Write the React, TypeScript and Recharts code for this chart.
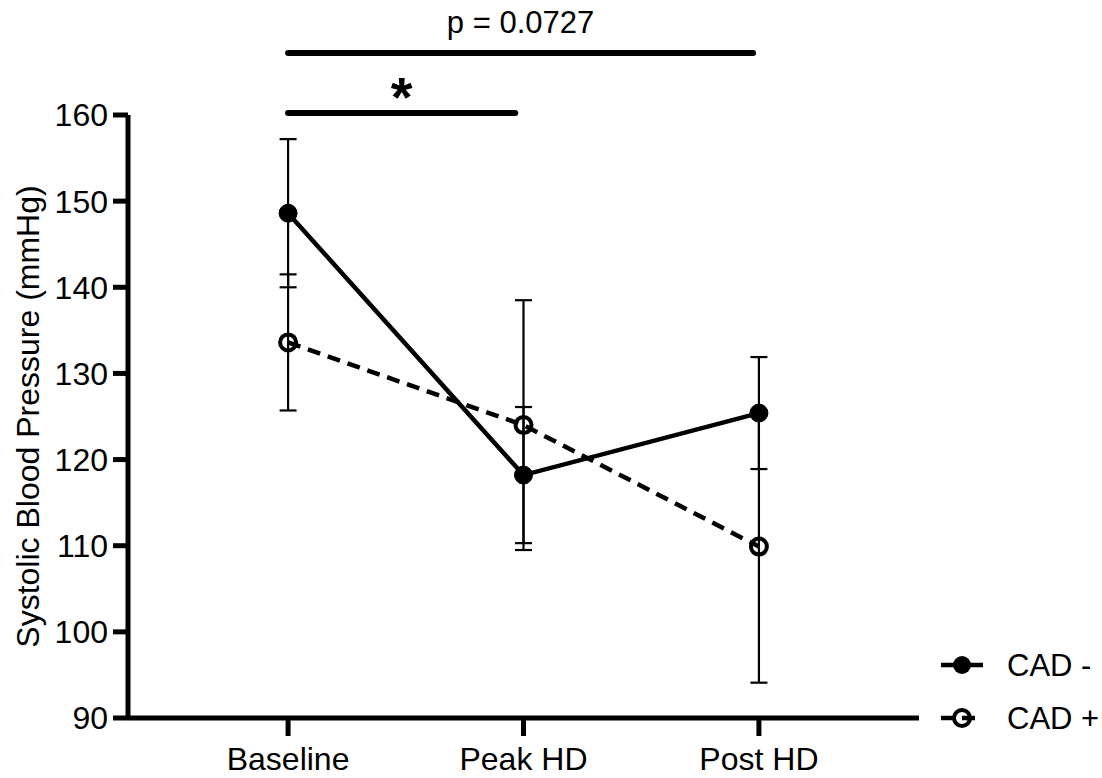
import React from 'react';
import { LineChart, Line, XAxis, YAxis, ErrorBar, ReferenceLine, Legend } from 'recharts';

const categories = ['Baseline', 'Peak HD', 'Post HD'];
const cadNegMean = [148.6, 118.2, 125.4];
const cadNegSD = [8.6, 7.9, 6.5];
const cadPosMean = [133.6, 124.0, 109.9];
const cadPosSD = [7.9, 14.5, 15.8];
const yTicks = [90, 100, 110, 120, 130, 140, 150, 160];
const xTicks = [0, 1, 2];
const seriesNames = ['CAD -', 'CAD +'];
const sigFrom = [0, 0];
const sigTo = [0.965, 1.975];
const sigLevel = [160.23, 167.2];
const sigText = ['*', 'p = 0.0727'];

const FONT = '"Liberation Sans", Arial, sans-serif';

const data = categories.map((c, i) => ({
  x: i,
  name: c,
  neg: cadNegMean[i],
  negErr: cadNegSD[i],
  pos: cadPosMean[i],
  posErr: cadPosSD[i],
}));

const SigLabel = (props: any) => {
  const vb = props.viewBox || {};
  const cx = vb.x + (vb.width || 0) / 2;
  const isStar = props.value === '*';
  return (
    <text
      x={cx}
      y={isStar ? vb.y + 3 : vb.y - 20}
      textAnchor="middle"
      fill="#000"
      fontFamily={FONT}
      fontSize={isStar ? 56 : 31}
      fontWeight={isStar ? 'bold' : 'normal'}
    >
      {props.value}
    </text>
  );
};

const YTitle = (props: any) => {
  const vb = props.viewBox || {};
  const x = vb.x + 28;
  const y = vb.y + vb.height / 2;
  return (
    <text
      x={x}
      y={y}
      transform={`rotate(-90, ${x}, ${y})`}
      textAnchor="middle"
      dominantBaseline="central"
      fill="#000"
      fontFamily={FONT}
      fontSize={32}
    >
      Systolic Blood Pressure (mmHg)
    </text>
  );
};

const LegendContent = () => (
  <svg width={167} height={110}>
    <g>
      <line x1={6} y1={25} x2={48} y2={25} stroke="#000" strokeWidth={4.5} />
      <circle cx={27} cy={25} r={9} fill="#000" />
      <text x={72} y={25} dominantBaseline="central" fontFamily={FONT} fontSize={31} fill="#000">
        {seriesNames[0]}
      </text>
    </g>
    <g>
      <line x1={6} y1={78} x2={48} y2={78} stroke="#000" strokeWidth={4.5} strokeDasharray="13 8" />
      <circle cx={27} cy={78} r={8} fill="none" stroke="#000" strokeWidth={4} />
      <text x={72} y={78} dominantBaseline="central" fontFamily={FONT} fontSize={31} fill="#000">
        {seriesNames[1]}
      </text>
    </g>
  </svg>
);

export default function App() {
  return (
    <div style={{ position: 'absolute', left: 0, top: 0, width: 1102, height: 778, background: '#fff' }}>
      <LineChart
        width={1102}
        height={778}
        data={data}
        margin={{ top: 115, right: 183, bottom: 0, left: 0 }}
        style={{ fontFamily: FONT }}
      >
        <XAxis
          dataKey="x"
          type="number"
          domain={[-0.68, 2.68]}
          ticks={xTicks}
          tickFormatter={(v: number) => categories[v]}
          height={60}
          axisLine={{ stroke: '#000', strokeWidth: 5 }}
          tickLine={{ stroke: '#000', strokeWidth: 5 }}
          tickSize={18}
          tickMargin={11}
          tick={{ fill: '#000', fontSize: 32, fontFamily: FONT }}
          allowDataOverflow
        />
        <YAxis
          type="number"
          domain={[90, 160]}
          ticks={yTicks}
          width={128}
          axisLine={{ stroke: '#000', strokeWidth: 5 }}
          tickLine={{ stroke: '#000', strokeWidth: 5 }}
          tickSize={15}
          tickMargin={5}
          tick={{ fill: '#000', fontSize: 32, fontFamily: FONT }}
          label={<YTitle />}
          allowDataOverflow
        />
        {sigText.map((t, i) => (
          <ReferenceLine
            key={t}
            segment={[
              { x: sigFrom[i], y: sigLevel[i] },
              { x: sigTo[i], y: sigLevel[i] },
            ]}
            ifOverflow="visible"
            stroke="#000"
            strokeWidth={6}
            strokeLinecap="round"
            label={<SigLabel value={t} />}
          />
        ))}
        <Line
          dataKey="neg"
          name={seriesNames[0]}
          stroke="#000"
          strokeWidth={4.5}
          isAnimationActive={false}
          dot={{ r: 9, fill: '#000', stroke: '#000', strokeWidth: 1 }}
          activeDot={false}
        >
          <ErrorBar dataKey="negErr" direction="y" width={8.5} stroke="#000" strokeWidth={2.2} />
        </Line>
        <Line
          dataKey="pos"
          name={seriesNames[1]}
          stroke="#000"
          strokeWidth={4.5}
          strokeDasharray="13 8"
          isAnimationActive={false}
          dot={{ r: 8, fill: 'none', stroke: '#000', strokeWidth: 4, strokeDasharray: 'none' }}
          activeDot={false}
        >
          <ErrorBar dataKey="posErr" direction="y" width={8.5} stroke="#000" strokeWidth={2.2} />
        </Line>
        <Legend
          layout="horizontal"
          verticalAlign="middle"
          align="center"
          content={<LegendContent />}
          wrapperStyle={{ left: 935, top: 640, width: 167, height: 110 }}
        />
      </LineChart>
    </div>
  );
}
